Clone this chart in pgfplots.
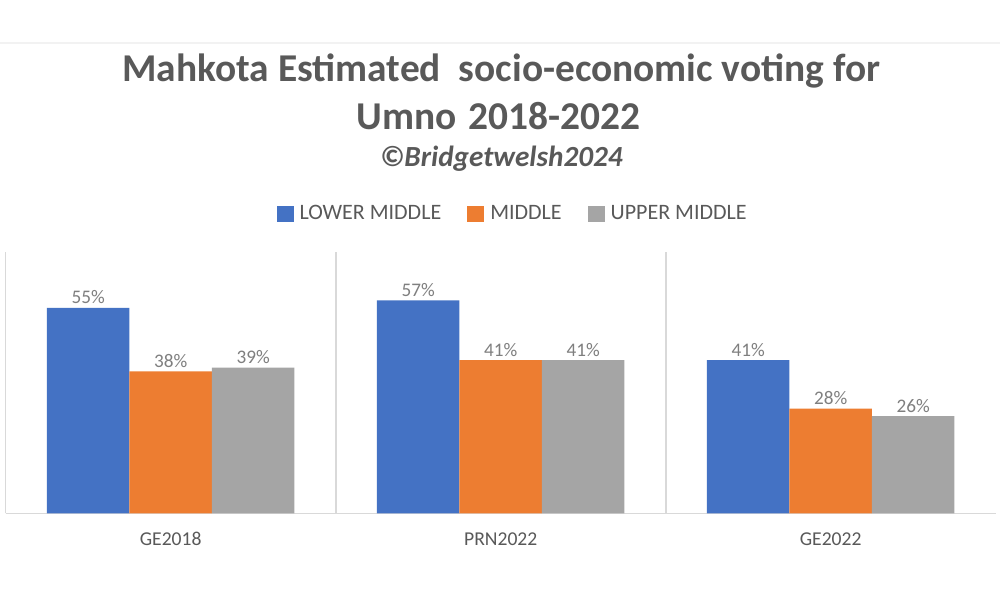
\documentclass[border=0pt]{standalone}
\usepackage{fontspec}
\setmainfont{Carlito}
\usepackage{pgfplots}
\pgfplotsset{compat=1.18}
\definecolor{cblue}{HTML}{4472C4}
\definecolor{corange}{HTML}{ED7D31}
\definecolor{cgray}{HTML}{A5A5A5}
\definecolor{titleG}{HTML}{595959}
\definecolor{labG}{HTML}{7F7F7F}
\definecolor{lineG}{HTML}{D9D9D9}
\definecolor{topG}{HTML}{F2F2F2}
\begin{document}
\begin{tikzpicture}
\useasboundingbox[fill=white] (0,0) rectangle (500pt,300pt);
\draw[topG, line width=0.8pt] (0,278.5pt) -- (500pt,278.5pt);
\node[anchor=base, text=titleG, font=\bfseries\fontsize{19.7}{22}\selectfont, inner sep=0] at (250.7pt,259.15pt) {Mahkota Estimated\ \ socio-economic voting for};
\node[anchor=base, text=titleG, font=\bfseries\fontsize{19.7}{22}\selectfont, inner sep=0] at (249.3pt,235.35pt) {Umno\hspace{0.3em}2018-2022};
\node[anchor=base, text=titleG, font=\bfseries\itshape\fontsize{14.6}{16}\selectfont, inner sep=0] at (250.7pt,216.65pt) {©Bridgetwelsh2024};
\begin{axis}[
  at={(2.85pt,43.35pt)}, anchor=south west,
  scale only axis, width=495pt, height=130.8pt,
  xmin=-0.5, xmax=2.5, ymin=0, ymax=70,
  enlargelimits=false,
  ybar=0pt, bar width=0.25,
  axis y line=none,
  axis x line*=bottom,
  x axis line style={lineG, line width=0.8pt, -},
  xtick={0,1,2},
  xticklabels={GE2018,PRN2022,GE2022},
  major tick length=0pt,
  xticklabel style={text=titleG, font=\fontsize{9.8}{11}\selectfont, anchor=base, yshift=-15.85pt, inner sep=0},
  extra x ticks={-0.5,0.5,1.5},
  extra x tick labels={},
  extra x tick style={grid=major, major grid style={lineG, line width=0.8pt}},
  /pgf/number format/assume math mode=true,
  nodes near coords={\pgfmathprintnumber{\pgfplotspointmeta}\%},
  every node near coord/.append style={text=labG, font=\fontsize{9.6}{11}\selectfont, anchor=base, yshift=2pt, inner sep=0},
  legend style={at={(0.513,1.144)}, anchor=center, draw=none, fill=none,
    font=\fontsize{11}{13}\selectfont, text=titleG, legend columns=3,
    /tikz/every even column/.append style={column sep=11pt},
    /tikz/every odd column/.append style={column sep=1pt},
    inner sep=0pt},
  legend image code/.code={\fill[#1] (0pt,-4pt) rectangle (8.5pt,4pt);},
  legend cell align=left,
]
\addplot[fill=cblue, draw=none] coordinates {(0,55) (1,57) (2,41)};
\addplot[fill=corange, draw=none] coordinates {(0,38) (1,41) (2,28)};
\addplot[fill=cgray, draw=none] coordinates {(0,39) (1,41) (2,26)};
\legend{LOWER MIDDLE, MIDDLE, UPPER MIDDLE}
\end{axis}
\end{tikzpicture}
\end{document}
